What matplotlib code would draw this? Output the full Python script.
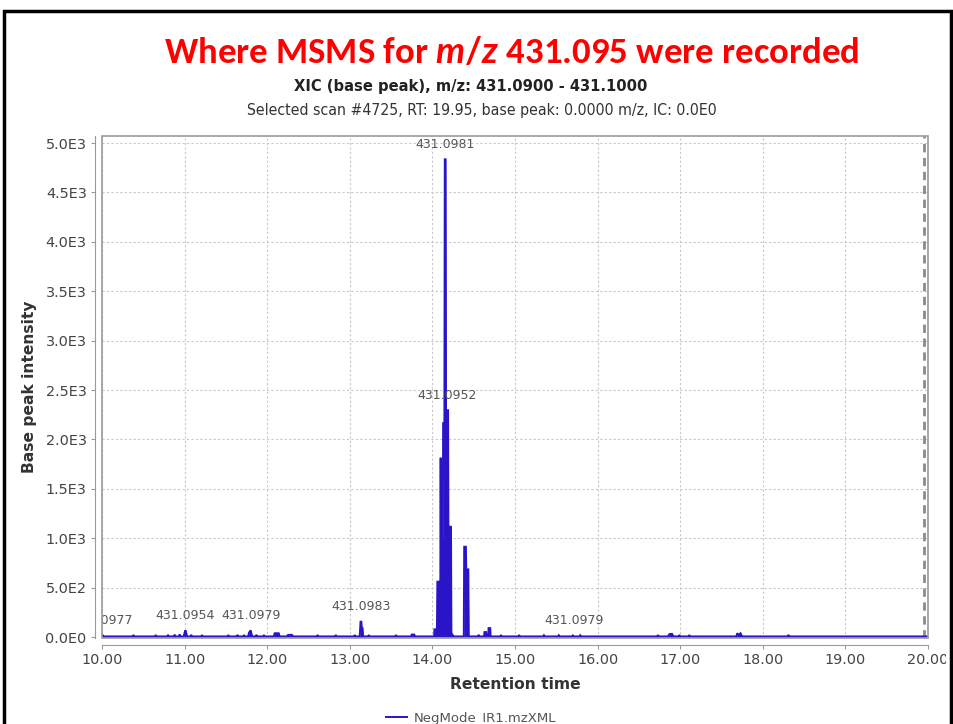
import numpy as np
import matplotlib
matplotlib.use("Agg")
import matplotlib.pyplot as plt
from matplotlib.patches import Rectangle
from matplotlib.transforms import Bbox, TransformedBbox

# XIC trace, m/z 431.0900 - 431.1000 (retention time in min, base peak intensity)
rt_min = [10.00, 10.01, 10.02,
          10.37, 10.38, 10.39,
          10.64, 10.65, 10.66,
          10.79, 10.80, 10.81,
          10.87, 10.88, 10.89,
          10.93, 10.94, 10.95,
          10.99, 11.00, 11.01, 11.02, 11.03,
          11.07, 11.08, 11.09,
          11.20, 11.21, 11.22,
          11.52, 11.53, 11.54,
          11.63, 11.64, 11.65,
          11.71, 11.72, 11.73,
          11.77, 11.78, 11.80, 11.81, 11.82,
          11.86, 11.87, 11.88,
          11.95, 11.96, 11.97,
          12.08, 12.09, 12.14, 12.15,
          12.24, 12.25, 12.26, 12.30, 12.31,
          12.60, 12.61, 12.62,
          12.82, 12.83, 12.84,
          13.05, 13.06, 13.07,
          13.12, 13.13, 13.14, 13.145, 13.155, 13.16,
          13.22, 13.23, 13.24,
          13.55, 13.56, 13.57,
          13.74, 13.75, 13.78, 13.79,
          14.02, 14.025, 14.055, 14.06, 14.09, 14.095, 14.10, 14.105,
          14.11, 14.125, 14.13, 14.145, 14.15, 14.16, 14.165, 14.19,
          14.195, 14.20, 14.225, 14.23, 14.245, 14.26,
          14.38, 14.385, 14.405, 14.41, 14.435, 14.44,
          14.55, 14.56, 14.57,
          14.625, 14.63, 14.65, 14.655,
          14.675, 14.68, 14.70, 14.705,
          14.82, 14.83, 14.84,
          15.04, 15.05, 15.06,
          15.34, 15.35, 15.36,
          15.52, 15.53, 15.54,
          15.69, 15.70, 15.71,
          15.78, 15.79, 15.80,
          16.72, 16.73, 16.74,
          16.85, 16.87, 16.90, 16.92,
          16.98, 16.99, 17.00,
          17.10, 17.11, 17.12,
          17.68, 17.69, 17.71, 17.73, 17.75,
          18.30, 18.31, 18.32,
          20.00]
intensity = [6, 20, 6,
             6, 20, 6,
             6, 20, 6,
             6, 22, 6,
             6, 24, 6,
             6, 26, 6,
             6, 45, 68, 40, 6,
             6, 22, 6,
             6, 20, 6,
             6, 20, 6,
             6, 22, 6,
             6, 20, 6,
             6, 45, 68, 30, 6,
             6, 22, 6,
             6, 20, 6,
             6, 38, 38, 6,
             6, 20, 22, 22, 6,
             6, 20, 6,
             6, 20, 6,
             6, 20, 6,
             6, 155, 155, 88, 88, 6,
             6, 20, 6,
             6, 20, 6,
             6, 25, 25, 6,
             6, 78, 78, 560, 560, 300, 1815, 500,
             1000, 1000, 2165, 2165, 4835, 4835, 2295, 2295,
             700, 1116, 1116, 40, 20, 6,
             6, 914, 914, 685, 685, 6,
             6, 22, 6,
             6, 50, 50, 6,
             6, 90, 90, 6,
             6, 20, 6,
             6, 20, 6,
             6, 18, 6,
             6, 18, 6,
             6, 16, 6,
             6, 18, 6,
             6, 20, 6,
             6, 30, 32, 6,
             6, 20, 6,
             6, 20, 6,
             6, 38, 20, 38, 6,
             6, 22, 6,
             6]

# m/z item labels placed over individual scans
label_rt = [10.01, 11.01, 11.81, 13.14, 14.153, 14.172, 15.71]
label_int = [20, 68, 68, 155, 4835, 2295, 16]
label_mz = ["431.0977", "431.0954", "431.0979", "431.0983",
            "431.0981", "431.0952", "431.0979"]

selected_rt = 19.95

xticks = [10, 11, 12, 13, 14, 15, 16, 17, 18, 19, 20]
xtick_labels = ["10.00", "11.00", "12.00", "13.00", "14.00", "15.00",
                "16.00", "17.00", "18.00", "19.00", "20.00"]
yticks = [0, 500, 1000, 1500, 2000, 2500, 3000, 3500, 4000, 4500, 5000]
ytick_labels = ["0.0E0", "5.0E2", "1.0E3", "1.5E3", "2.0E3", "2.5E3",
                "3.0E3", "3.5E3", "4.0E3", "4.5E3", "5.0E3"]

trace_color = "#2a14c8"
grey_text = "#444444"

plt.rcParams["mathtext.fontset"] = "custom"
plt.rcParams["mathtext.rm"] = "Lato:bold"
plt.rcParams["mathtext.it"] = "Lato:italic:bold"

fig = plt.figure(figsize=(9.54, 7.24), dpi=100)
ax = fig.add_axes([0.10692, 0.11878, 0.86583, 0.69337])

line, = ax.plot(rt_min, intensity, color=trace_color, lw=1.4, zorder=3,
                solid_joinstyle="miter")
ax.fill_between(rt_min, 0, intensity, color=trace_color, lw=0, zorder=3)

# selected scan marker
ax.axvline(selected_rt, color="#8a8a8a", lw=2, ls=(0, (3, 2)), zorder=2)

for x, y, s in zip(label_rt, label_int, label_mz):
    ax.annotate(s, xy=(x, y), xytext=(0, 6), textcoords="offset points",
                ha="center", va="bottom", fontsize=9, color="#555555",
                clip_on=True, zorder=4)

ax.set_xlim(10, 20)
ax.set_ylim(-10, 5071)
ax.set_xticks(xticks)
ax.set_xticklabels(xtick_labels)
ax.set_yticks(yticks)
ax.set_yticklabels(ytick_labels)

ax.grid(True, color="#c8c8c8", lw=0.8, ls=(0, (2, 2)))
ax.set_axisbelow(True)

for side in ["top", "right"]:
    ax.spines[side].set_visible(False)
for side in ["left", "bottom"]:
    ax.spines[side].set_position(("outward", 5))
    ax.spines[side].set_color("#9a9a9a")
ax.add_patch(Rectangle((0, 0), 1, 1, transform=ax.transAxes, fill=False,
                       ec="#9a9a9a", lw=1.2, clip_on=False, zorder=5))

ax.tick_params(axis="both", direction="out", length=3, width=0.8,
               color="#9a9a9a", labelsize=10.4, labelcolor=grey_text, pad=3)

# the last x label runs off the right edge of the chart image
clip = TransformedBbox(Bbox([[0, 0], [946 / 954, 1]]), fig.transFigure)
for lab in ax.get_xticklabels():
    lab.set_clip_box(clip)
    lab.set_clip_on(True)

ax.set_xlabel("Retention time", fontsize=11.2, fontweight="bold",
              color="#333333", labelpad=7)
ax.set_ylabel("Base peak intensity", fontsize=11.2, fontweight="bold",
              color="#333333", labelpad=6)

fig.text(0.5357, 0.928, r"Where MSMS for $m/z$ 431.095 were recorded",
         family=["Carlito", "Lato"], fontsize=26.5, fontweight="bold",
         color="#ff0000", ha="center", va="center")
fig.text(0.4937, 0.881, "XIC (base peak), m/z: 431.0900 - 431.1000",
         family="DejaVu Sans", fontstretch="condensed", fontsize=11.8,
         fontweight="bold", color="#222222", ha="center", va="center")
fig.text(0.5052, 0.8467,
         "Selected scan #4725, RT: 19.95, base peak: 0.0000 m/z, IC: 0.0E0",
         family="DejaVu Sans", fontstretch="condensed", fontsize=11.3,
         color="#333333", ha="center", va="center")

fig.legend(handles=[line], labels=["NegMode_IR1.mzXML"], loc="center",
           bbox_to_anchor=(0.494, 0.008), frameon=False, fontsize=9.5,
           handlelength=1.6, handletextpad=0.5, labelcolor="#555555")

# slide frame
fig.patches.append(Rectangle((4 / 954, -0.05), 947 / 954, 1.05 - 11 / 724,
                             transform=fig.transFigure, fill=False,
                             ec="black", lw=2.5))

fig.savefig("out.png", dpi=100)
